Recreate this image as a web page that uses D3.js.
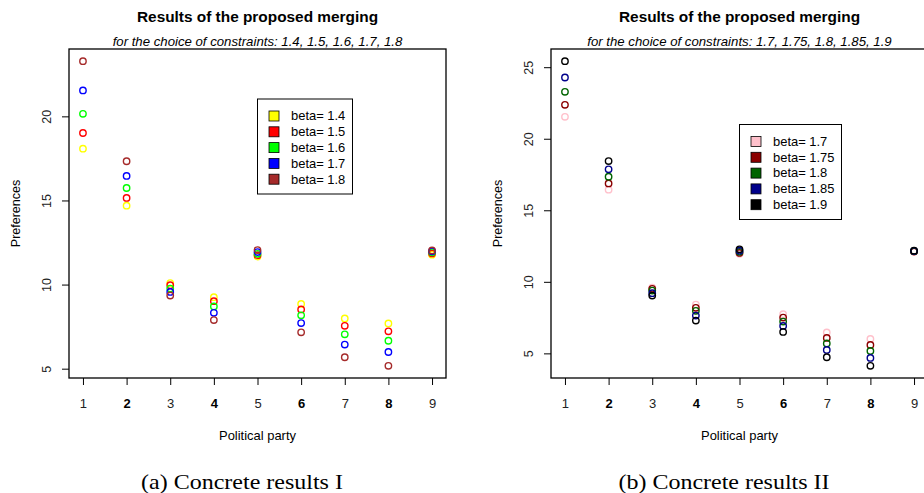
<!DOCTYPE html>
<html>
<head>
<meta charset="utf-8">
<script src="https://cdn.jsdelivr.net/npm/d3@7"></script>
<style>
  body { margin: 0; background: #fff; }
  svg { display: block; }
</style>
</head>
<body>
<div id="chart"></div>
<script>
// parties on the x axis
var parties = [1, 2, 3, 4, 5, 6, 7, 8, 9];

// panel (a): beta = 1.4 ... 1.8
var betasA = ["1.4", "1.5", "1.6", "1.7", "1.8"];
var colorsA = ["#ffff00", "#ff0000", "#00ff00", "#0000ff", "#a52a2a"];
var beta14 = [18.08, 14.69, 10.09, 9.25, 11.67, 8.85, 7.99, 7.69, 11.78];
var beta15 = [19.01, 15.15, 9.96, 9.01, 11.75, 8.52, 7.55, 7.22, 11.85];
var beta16 = [20.15, 15.74, 9.76, 8.70, 11.83, 8.17, 7.04, 6.66, 11.92];
var beta17 = [21.54, 16.46, 9.56, 8.32, 11.93, 7.71, 6.43, 5.99, 11.98];
var beta18 = [23.28, 17.33, 9.35, 7.89, 12.05, 7.16, 5.68, 5.17, 12.03];
var yTicksA = [5, 10, 15, 20];

// panel (b): beta = 1.7 ... 1.9
var betasB = ["1.7", "1.75", "1.8", "1.85", "1.9"];
var colorsB = ["#ffc0cb", "#8b0000", "#006400", "#00008b", "#000000"];
var beta170 = [21.53, 16.44, 9.60, 8.41, 11.95, 7.74, 6.46, 6.01, 12.10];
var beta175 = [22.37, 16.88, 9.51, 8.18, 12.02, 7.50, 6.08, 5.59, 12.12];
var beta180 = [23.28, 17.35, 9.39, 7.97, 12.10, 7.22, 5.69, 5.17, 12.14];
var beta185 = [24.28, 17.86, 9.21, 7.64, 12.18, 6.92, 5.24, 4.68, 12.16];
var beta190 = [25.42, 18.44, 9.04, 7.29, 12.27, 6.50, 4.73, 4.13, 12.18];
var yTicksB = [5, 10, 15, 20, 25];

var W = 924, H = 493;
var sans = "'Liberation Sans', Arial, Helvetica, sans-serif";
var serif = "'Liberation Serif', 'Times New Roman', serif";

var svg = d3.select("#chart").append("svg")
    .attr("width", W)
    .attr("height", H);

// the picture is a bit stretched sideways, so text gets a small x-scale
function label(g, x, y, size, sx, txt) {
  return g.append("text")
      .attr("transform", "translate(" + x + "," + y + ") scale(" + sx + ",1)")
      .attr("font-size", size + "px")
      .attr("font-family", sans)
      .text(txt);
}

function drawPanel(opt) {
  var g = svg.append("g").attr("transform", "translate(" + opt.dx + ",0)");
  var left = 69, right = 446, top = 49, bottom = 378;

  // R style: extend data range by 4% on each side
  var xExt = d3.extent(parties);
  var xPad = (xExt[1] - xExt[0]) * 0.04;
  var xScale = d3.scaleLinear()
      .domain([xExt[0] - xPad, xExt[1] + xPad])
      .range([left, right]);

  var all = d3.merge(opt.series);
  var yExt = d3.extent(all);
  var yPad = (yExt[1] - yExt[0]) * 0.04;
  var yScale = d3.scaleLinear()
      .domain([yExt[0] - yPad, yExt[1] + yPad])
      .range([bottom, top]);

  // x axis
  var xAxis = d3.axisBottom(xScale)
      .tickValues(parties)
      .tickSize(7)
      .tickPadding(14)
      .tickFormat(d3.format("d"));
  var xg = g.append("g")
      .attr("transform", "translate(0," + bottom + ")")
      .call(xAxis);
  xg.select(".domain").remove();
  xg.selectAll("line").attr("stroke", "#000");
  xg.selectAll("text")
      .attr("font-family", sans)
      .attr("font-size", "13px")
      .attr("font-weight", function(d) { return d % 2 === 0 ? "bold" : "normal"; })
      .attr("fill", function(d) { return d % 2 === 0 ? "#000" : "#222"; });

  // y axis
  var yAxis = d3.axisLeft(yScale)
      .tickValues(opt.yTicks)
      .tickSize(7);
  var yg = g.append("g")
      .attr("transform", "translate(" + left + ",0)")
      .call(yAxis);
  yg.select(".domain").remove();
  yg.selectAll("line").attr("stroke", "#000");
  yg.selectAll("text")
      .attr("font-family", sans)
      .attr("font-size", "12.5px")
      .attr("fill", "#222")
      .attr("text-anchor", "middle")
      .attr("x", null)
      .attr("transform", "translate(-22.5,0) rotate(-90)")
      .attr("dy", "0.35em");

  // plot box
  g.append("rect")
      .attr("x", left)
      .attr("y", top)
      .attr("width", right - left)
      .attr("height", bottom - top)
      .attr("fill", "none")
      .attr("stroke", "#000")
      .attr("stroke-width", 1.3);

  // points
  opt.series.forEach(function(vals, i) {
    g.append("g")
      .selectAll("circle")
      .data(vals)
      .enter()
      .append("circle")
      .attr("cx", function(d, j) { return xScale(parties[j]); })
      .attr("cy", function(d) { return yScale(d); })
      .attr("r", 3.2)
      .attr("fill", "none")
      .attr("stroke", opt.colors[i])
      .attr("stroke-width", 1.4);
  });

  // titles
  label(g, 257.5, 22, 14, 1.1, "Results of the proposed merging")
      .attr("text-anchor", "middle")
      .attr("font-weight", "bold");

  label(g, 257.5, 46, 12, 1.1, "for the choice of constraints: " + opt.betas.join(", "))
      .attr("text-anchor", "middle")
      .attr("font-style", "italic");

  // axis labels
  label(g, 257.5, 439.5, 12, 1.08, "Political party")
      .attr("text-anchor", "middle");

  g.append("text")
      .attr("transform", "translate(20," + ((top + bottom) / 2) + ") rotate(-90)")
      .attr("text-anchor", "middle")
      .attr("font-family", sans)
      .attr("font-size", "12.5px")
      .text("Preferences");

  // legend
  var lg = g.append("g").attr("transform", "translate(" + opt.legend[0] + "," + opt.legend[1] + ")");
  lg.append("rect")
      .attr("width", opt.legend[2])
      .attr("height", 95)
      .attr("fill", "#fff")
      .attr("stroke", "#000");
  opt.betas.forEach(function(b, i) {
    var yy = 17 + i * 15.8;
    lg.append("rect")
        .attr("x", 11.5)
        .attr("y", yy - 5)
        .attr("width", 10)
        .attr("height", 10)
        .attr("fill", opt.colors[i])
        .attr("stroke", "#000")
        .attr("stroke-width", 0.8);
    label(lg, 33.5, yy + 4.3, 12, 1.08, "beta= " + b);
  });

  // caption
  label(g, 242, 488.5, 20, 1.2, opt.caption)
      .attr("text-anchor", "middle")
      .attr("font-family", serif);
}

drawPanel({
  dx: 0,
  series: [beta14, beta15, beta16, beta17, beta18],
  colors: colorsA,
  betas: betasA,
  yTicks: yTicksA,
  legend: [257.5, 99, 95],
  caption: "(a) Concrete results I"
});

drawPanel({
  dx: 482,
  series: [beta170, beta175, beta180, beta185, beta190],
  colors: colorsB,
  betas: betasB,
  yTicks: yTicksB,
  legend: [257.5, 124.5, 102],
  caption: "(b) Concrete results II"
});
</script>
</body>
</html>
